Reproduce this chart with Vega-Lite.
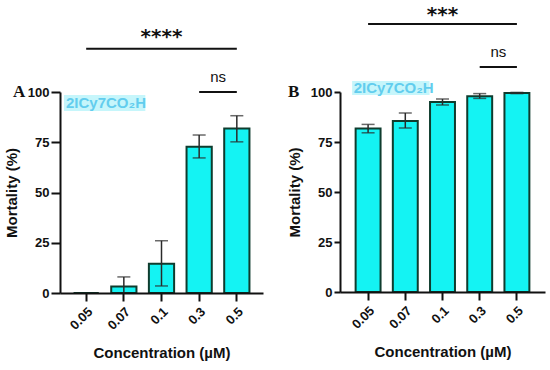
{
  "$schema": "https://vega.github.io/schema/vega-lite/v6.json",
  "background": "white",
  "padding": {"left": 4, "right": 5, "top": 5, "bottom": 5},
  "spacing": 24,
  "config": {
    "view": {"stroke": null},
    "font": "Liberation Sans",
    "axis": {
      "domainColor": "#111111", "domainWidth": 2, "tickColor": "#111111", "tickWidth": 2, "tickSize": 6,
      "labelFont": "Liberation Sans", "labelFontWeight": "bold", "labelFontSize": 13, "labelColor": "#111111", "labelPadding": 2,
      "titleFont": "Liberation Sans", "titleFontWeight": "bold", "titleFontSize": 15, "titleColor": "#111111", "grid": false
    },
    "axisY": {"titlePadding": 8},
    "axisX": {"labelAngle": -45, "titlePadding": 13, "tickSize": 8, "labelPadding": 4},
    "title": {"font": "Liberation Serif", "fontSize": 17, "fontWeight": "bold", "color": "#111111", "anchor": "start", "frame": "group", "orient": "top", "offset": 0}
  },
  "datasets": {
    "A": [
      {"conc": "0.05", "mean": 0, "lo": null, "hi": null},
      {"conc": "0.07", "mean": 3.2, "lo": 0, "hi": 8},
      {"conc": "0.1", "mean": 14.5, "lo": 3.5, "hi": 26},
      {"conc": "0.3", "mean": 72.8, "lo": 67.2, "hi": 78.6},
      {"conc": "0.5", "mean": 81.8, "lo": 75.2, "hi": 88.2}
    ],
    "B": [
      {"conc": "0.05", "mean": 81.7, "lo": 79.6, "hi": 83.8},
      {"conc": "0.07", "mean": 85.5, "lo": 82, "hi": 89.5},
      {"conc": "0.1", "mean": 95, "lo": 93.5, "hi": 96.5},
      {"conc": "0.3", "mean": 97.9, "lo": 96.8, "hi": 99.2},
      {"conc": "0.5", "mean": 99.5, "lo": 99.2, "hi": 99.8}
    ],
    "lineA": [
      {"conc": "0.05", "conc2": "0.5", "y": 121.5},
      {"conc": "0.3", "conc2": "0.5", "y": 100}
    ],
    "lineB": [
      {"conc": "0.05", "conc2": "0.5", "y": 134},
      {"conc": "0.3", "conc2": "0.5", "y": 112.5}
    ],
    "starA": [{"conc": "0.1", "y": 127.5, "label": "****"}],
    "starB": [{"conc": "0.1", "y": 138.5, "label": "***"}],
    "nsA": [{"conc": "0.3", "y": 107.5, "label": "ns"}],
    "nsB": [{"conc": "0.3", "y": 120, "label": "ns"}],
    "tagA": [{"conc": "0.05", "conc2": "0.1", "y": 90.5, "y2": 98.5, "ym": 94.5, "label": "2ICy7CO₂H"}],
    "tagB": [{"conc": "0.05", "conc2": "0.1", "y": 98.5, "y2": 105.5, "ym": 102, "label": "2ICy7CO₂H"}]
  },
  "hconcat": [
    {
      "width": 203, "height": 201,
      "title": {"text": "A", "dx": -47, "dy": 78},
      "layer": [
        {
          "data": {"name": "tagA"},
          "mark": {"type": "rect", "color": "#c6f6fb"},
          "encoding": {
            "x": {"field": "conc", "type": "nominal", "bandPosition": -0.38,
              "scale": {"type": "band", "domain": ["0.05", "0.07", "0.1", "0.3", "0.5"], "paddingInner": 0.33, "paddingOuter": 0.36},
              "axis": {"title": "Concentration (µM)"}},
            "x2": {"field": "conc2", "bandPosition": -0.14},
            "y": {"field": "y", "type": "quantitative", "scale": {"domain": [0, 100], "nice": false},
              "axis": {"values": [0, 25, 50, 75, 100], "title": "Mortality (%)", "tickSize": 9}},
            "y2": {"field": "y2"}
          }
        },
        {
          "data": {"name": "tagA"},
          "mark": {"type": "text", "align": "left", "baseline": "middle", "fontSize": 15, "fontWeight": "bold", "color": "#62cdee"},
          "encoding": {
            "x": {"field": "conc", "type": "nominal", "bandPosition": -0.3},
            "y": {"field": "ym", "type": "quantitative"},
            "text": {"field": "label"}
          }
        },
        {
          "data": {"name": "A"},
          "mark": {"type": "bar", "fill": "#14f3f3", "stroke": "#0f3c2e", "strokeWidth": 2},
          "encoding": {
            "x": {"field": "conc", "type": "nominal"},
            "y": {"field": "mean", "type": "quantitative"}
          }
        },
        {
          "data": {"name": "A"},
          "mark": {"type": "rule", "color": "#2a2a2a", "strokeWidth": 1.5},
          "encoding": {
            "x": {"field": "conc", "type": "nominal"},
            "y": {"field": "lo", "type": "quantitative"},
            "y2": {"field": "hi"}
          }
        },
        {
          "data": {"name": "A"},
          "mark": {"type": "tick", "color": "#2a2a2a", "thickness": 1.5, "size": 13},
          "encoding": {
            "x": {"field": "conc", "type": "nominal"},
            "y": {"field": "lo", "type": "quantitative"}
          }
        },
        {
          "data": {"name": "A"},
          "mark": {"type": "tick", "color": "#2a2a2a", "thickness": 1.5, "size": 13},
          "encoding": {
            "x": {"field": "conc", "type": "nominal"},
            "y": {"field": "hi", "type": "quantitative"}
          }
        },
        {
          "data": {"name": "lineA"},
          "mark": {"type": "rule", "color": "#111111", "strokeWidth": 2},
          "encoding": {
            "x": {"field": "conc", "type": "nominal", "bandPosition": 0.5},
            "x2": {"field": "conc2", "bandPosition": 0.5},
            "y": {"field": "y", "type": "quantitative"}
          }
        },
        {
          "data": {"name": "starA"},
          "mark": {"type": "text", "font": "DejaVu Sans", "fontWeight": "bold", "fontSize": 20, "baseline": "middle", "color": "#111111"},
          "encoding": {
            "x": {"field": "conc", "type": "nominal"},
            "y": {"field": "y", "type": "quantitative"},
            "text": {"field": "label"}
          }
        },
        {
          "data": {"name": "nsA"},
          "mark": {"type": "text", "fontSize": 15, "baseline": "middle", "color": "#111111"},
          "encoding": {
            "x": {"field": "conc", "type": "nominal", "bandPosition": 1.25},
            "y": {"field": "y", "type": "quantitative"},
            "text": {"field": "label"}
          }
        }
      ]
    },
    {
      "width": 205, "height": 200,
      "title": {"text": "B", "dx": -52, "dy": 100},
      "layer": [
        {
          "data": {"name": "tagB"},
          "mark": {"type": "rect", "color": "#c6f6fb"},
          "encoding": {
            "x": {"field": "conc", "type": "nominal", "bandPosition": -0.14,
              "scale": {"type": "band", "domain": ["0.05", "0.07", "0.1", "0.3", "0.5"], "paddingInner": 0.33, "paddingOuter": 0.42},
              "axis": {"title": "Concentration (µM)"}},
            "x2": {"field": "conc2", "bandPosition": -0.02},
            "y": {"field": "y", "type": "quantitative", "scale": {"domain": [0, 100], "nice": false},
              "axis": {"values": [0, 25, 50, 75, 100], "title": "Mortality (%)"}},
            "y2": {"field": "y2"}
          }
        },
        {
          "data": {"name": "tagB"},
          "mark": {"type": "text", "align": "left", "baseline": "middle", "fontSize": 15, "fontWeight": "bold", "color": "#62cdee"},
          "encoding": {
            "x": {"field": "conc", "type": "nominal", "bandPosition": -0.08},
            "y": {"field": "ym", "type": "quantitative"},
            "text": {"field": "label"}
          }
        },
        {
          "data": {"name": "B"},
          "mark": {"type": "bar", "fill": "#14f3f3", "stroke": "#0f3c2e", "strokeWidth": 2},
          "encoding": {
            "x": {"field": "conc", "type": "nominal"},
            "y": {"field": "mean", "type": "quantitative"}
          }
        },
        {
          "data": {"name": "B"},
          "mark": {"type": "rule", "color": "#2a2a2a", "strokeWidth": 1.5},
          "encoding": {
            "x": {"field": "conc", "type": "nominal"},
            "y": {"field": "lo", "type": "quantitative"},
            "y2": {"field": "hi"}
          }
        },
        {
          "data": {"name": "B"},
          "mark": {"type": "tick", "color": "#2a2a2a", "thickness": 1.5, "size": 13},
          "encoding": {
            "x": {"field": "conc", "type": "nominal"},
            "y": {"field": "lo", "type": "quantitative"}
          }
        },
        {
          "data": {"name": "B"},
          "mark": {"type": "tick", "color": "#2a2a2a", "thickness": 1.5, "size": 13},
          "encoding": {
            "x": {"field": "conc", "type": "nominal"},
            "y": {"field": "hi", "type": "quantitative"}
          }
        },
        {
          "data": {"name": "lineB"},
          "mark": {"type": "rule", "color": "#111111", "strokeWidth": 2},
          "encoding": {
            "x": {"field": "conc", "type": "nominal", "bandPosition": 0.5},
            "x2": {"field": "conc2", "bandPosition": 0.5},
            "y": {"field": "y", "type": "quantitative"}
          }
        },
        {
          "data": {"name": "starB"},
          "mark": {"type": "text", "font": "DejaVu Sans", "fontWeight": "bold", "fontSize": 20, "baseline": "middle", "color": "#111111"},
          "encoding": {
            "x": {"field": "conc", "type": "nominal"},
            "y": {"field": "y", "type": "quantitative"},
            "text": {"field": "label"}
          }
        },
        {
          "data": {"name": "nsB"},
          "mark": {"type": "text", "fontSize": 15, "baseline": "middle", "color": "#111111"},
          "encoding": {
            "x": {"field": "conc", "type": "nominal", "bandPosition": 1.25},
            "y": {"field": "y", "type": "quantitative"},
            "text": {"field": "label"}
          }
        }
      ]
    }
  ]
}
